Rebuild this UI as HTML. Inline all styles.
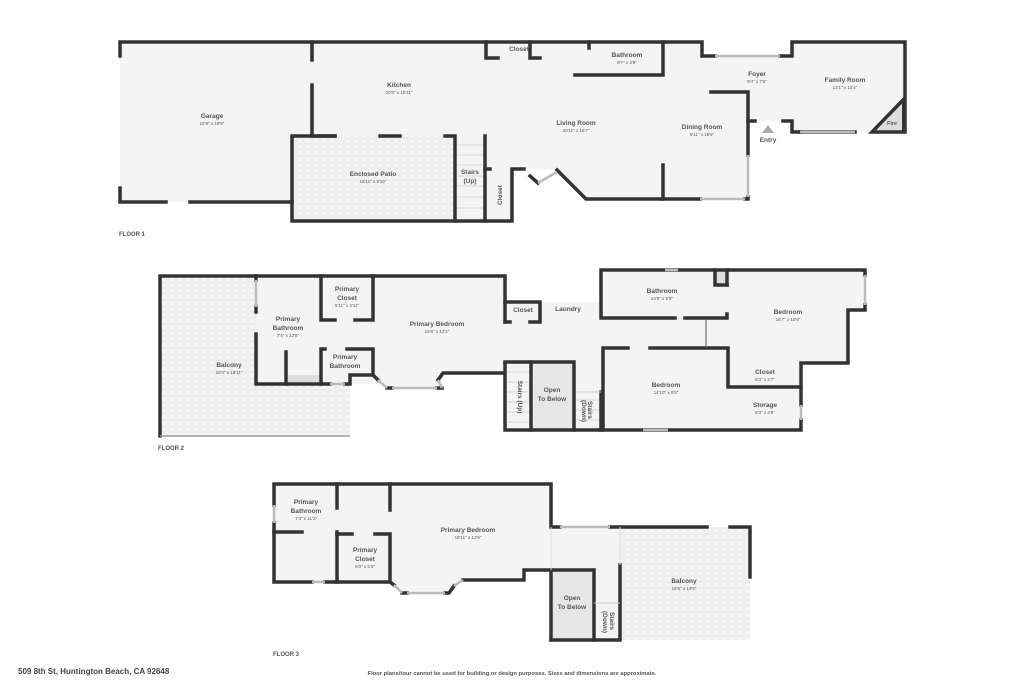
<!DOCTYPE html>
<html><head><meta charset="utf-8"><style>
html,body{margin:0;padding:0;background:#fff}
svg{display:block}
text{font-family:"Liberation Sans",sans-serif;fill:#555;text-anchor:middle}
.n{font-size:6.5px;font-weight:bold}
.d{font-size:4.5px}
.w{stroke:#333;stroke-width:3.5;fill:none;stroke-linecap:square;stroke-linejoin:miter}
.win{stroke:#bbb;stroke-width:2.5;fill:none}
.t{stroke:#ccc;stroke-width:0.8;fill:none}
</style></head><body>
<svg width="1024" height="683" viewBox="0 0 1024 683" xmlns="http://www.w3.org/2000/svg">
<defs>
<pattern id="p" width="8" height="6" patternUnits="userSpaceOnUse">
<rect width="8" height="6" fill="#f3f3f3"/>
<rect x="0.5" y="0.5" width="7" height="5" rx="1.5" fill="none" stroke="#e6e6e6" stroke-width="0.5"/>
</pattern>
</defs>
<!-- FLOOR 1 fills -->
<g fill="#f4f4f4">
<rect x="120" y="42" width="192" height="160"/>
<polygon points="312,42 702,42 702,56 792,56 792,42 905,42 905,132 792,132 792,121 748,121 748,199 586,199 557,170 524,169 512,169 512,221 455,221 455,136 312,136"/>
</g>
<rect x="292" y="136" width="163" height="85" fill="url(#p)"/>
<g class="t">
<line x1="455" y1="145" x2="485" y2="145"/><line x1="455" y1="155" x2="485" y2="155"/><line x1="455" y1="165" x2="485" y2="165"/><line x1="455" y1="176" x2="485" y2="176"/><line x1="455" y1="186" x2="485" y2="186"/><line x1="455" y1="197" x2="485" y2="197"/><line x1="455" y1="208" x2="485" y2="208"/>
</g>
<polygon points="872,132 903,100 903,132" fill="#ddd" stroke="#333" stroke-width="2"/>
<g class="w">
<polyline points="120,56 120,42 702,42 702,56 715,56"/>
<polyline points="780,56 792,56 792,42 905,42 905,132 872,132 903,100"/>
<polyline points="855,132 800,132"/>
<polyline points="800,132 792,132 792,121 783,121"/>
<polyline points="755,121 748,121"/>
<polyline points="711,92 748,92 748,155"/>
<polyline points="748,197 748,199 745,199"/>
<polyline points="700,199 586,199 557,170"/>
<polyline points="538,183 530,176"/>
<polyline points="524,169 512,169 512,221 292,221 292,136 335,136"/>
<polyline points="380,136 400,136"/>
<polyline points="445,136 455,136 455,221"/>
<polyline points="485,136 485,221"/>
<polyline points="485,169 490,169"/>
<polyline points="120,188 120,202 166,202"/>
<polyline points="190,202 292,202"/>
<polyline points="312,42 312,60"/>
<polyline points="312,85 312,136 335,136"/>
<polyline points="486,42 486,58 498,58"/>
<polyline points="530,42 530,58 540,58"/>
<polyline points="575,75 663,75 663,42"/>
<polyline points="589,42 589,48"/>
<polyline points="663,165 663,199"/>
</g>
<g class="win">
<line x1="715" y1="56" x2="780" y2="56"/><line x1="800" y1="132" x2="855" y2="132"/>
<line x1="748" y1="155" x2="748" y2="197"/><line x1="700" y1="199" x2="745" y2="199"/>
<line x1="538" y1="183" x2="557" y2="172"/>
</g>
<polygon points="762,133 768,125 774,133" fill="#aaa"/>
<text class="n" x="212" y="118">Garage</text><text class="d" x="212" y="125">22'8" x 18'9"</text>
<text class="n" x="399" y="87">Kitchen</text><text class="d" x="399" y="94">20'3" x 10'11"</text>
<text class="n" x="373" y="176">Enclosed Patio</text><text class="d" x="373" y="183">18'11" x 9'10"</text>
<text class="n" x="470" y="174">Stairs</text><text class="n" x="470" y="183">(Up)</text>
<text class="n" x="502" y="195" transform="rotate(-90 502 195)">Closet</text>
<text class="n" x="519" y="51">Closet</text>
<text class="n" x="627" y="57">Bathroom</text><text class="d" x="627" y="64">8'7" x 3'8"</text>
<text class="n" x="576" y="125">Living Room</text><text class="d" x="576" y="132">20'11" x 16'7"</text>
<text class="n" x="702" y="129">Dining Room</text><text class="d" x="702" y="136">9'11" x 18'5"</text>
<text class="n" x="757" y="76">Foyer</text><text class="d" x="757" y="83">9'4" x 7'6"</text>
<text class="n" x="845" y="82">Family Room</text><text class="d" x="845" y="89">13'1" x 10'4"</text>
<text class="n" x="768" y="142">Entry</text>
<text class="d" x="892" y="125" style="font-size:5.5px;font-weight:bold">Fire</text>
<text class="n" x="132" y="236" style="font-size:6px">FLOOR 1</text>

<!-- FLOOR 2 -->
<rect x="160" y="276" width="190" height="160" fill="url(#p)"/>
<g fill="#f4f4f4">
<polygon points="256,276 505,276 505,302 601,302 601,270 865,270 865,310 848,310 848,363 801,363 801,430 505,430 505,373 443,373 442,388 387,388 373,375 373,384 256,384"/>
</g>
<rect x="531" y="362" width="43" height="68" fill="#e6e6e6"/>
<rect x="287" y="375" width="33" height="9" fill="#ddd"/>
<rect x="715" y="271" width="12" height="14" fill="#ddd"/>
<g class="t">
<line x1="505" y1="372" x2="530" y2="372"/><line x1="505" y1="382" x2="530" y2="382"/><line x1="505" y1="392" x2="530" y2="392"/><line x1="505" y1="402" x2="530" y2="402"/><line x1="505" y1="412" x2="530" y2="412"/><line x1="505" y1="422" x2="530" y2="422"/>
<line x1="576" y1="400" x2="601" y2="400"/><line x1="576" y1="410" x2="601" y2="410"/><line x1="576" y1="420" x2="601" y2="420"/>
</g>
<g class="w">
<polyline points="160,436 160,276 505,276 505,322"/>
<polyline points="256,276 256,280"/><polyline points="256,307 256,312"/>
<polyline points="256,334 256,384 330,384"/>
<polyline points="286,352 286,384"/>
<polyline points="321,276 321,320 335,320"/><polyline points="355,320 373,320 373,276"/>
<polyline points="325,349 321,349 321,384"/><polyline points="347,349 373,349 373,375 350,375 350,384 345,384"/>
<polyline points="373,375 378,380"/><polyline points="387,388 392,388"/><polyline points="437,388 442,388"/><polyline points="438,380 443,373 505,373 505,362 505,430 801,430 801,420"/>
<polyline points="801,405 801,363 848,363 848,310 865,310 865,305"/>
<polyline points="865,275 865,270 601,270 601,318 675,318"/>
<polyline points="685,318 727,318 727,314"/>
<polyline points="727,285 727,270"/><polyline points="715,270 715,285 727,285"/>
<polyline points="505,302 540,302 540,322 530,322"/>
<polyline points="505,322 510,322"/>
<polyline points="603,430 603,348 628,348"/><polyline points="650,348 728,348 728,387 801,387"/>
<polyline points="531,430 531,362 574,362 574,430"/>
<polyline points="505,362 531,362"/>
<polyline points="601,392 601,430"/>
</g>
<line x1="706" y1="320" x2="706" y2="348" stroke="#555" stroke-width="1"/>
<line x1="576" y1="392" x2="601" y2="392" stroke="#ccc" stroke-width="1"/>
<line x1="160" y1="436" x2="350" y2="436" stroke="#999" stroke-width="1.5"/>
<g class="win">
<line x1="256" y1="280" x2="256" y2="307"/><line x1="330" y1="384" x2="345" y2="384"/>
<line x1="378" y1="380" x2="387" y2="388"/><line x1="392" y1="388" x2="437" y2="388"/><line x1="438" y1="380" x2="442" y2="388"/>
<line x1="865" y1="275" x2="865" y2="305"/><line x1="801" y1="405" x2="801" y2="420"/>
<line x1="643" y1="430" x2="668" y2="430"/><line x1="665" y1="270" x2="678" y2="270"/>
</g>
<text class="n" x="229" y="367">Balcony</text><text class="d" x="229" y="374">22'4" x 18'11"</text>
<text class="n" x="288" y="321">Primary</text><text class="n" x="288" y="330">Bathroom</text><text class="d" x="288" y="337">7'4" x 12'8"</text>
<text class="n" x="347" y="291">Primary</text><text class="n" x="347" y="300">Closet</text><text class="d" x="347" y="307">5'11" x 4'11"</text>
<text class="n" x="345" y="359">Primary</text><text class="n" x="345" y="368">Bathroom</text>
<text class="n" x="437" y="326">Primary Bedroom</text><text class="d" x="437" y="333">15'6" x 13'1"</text>
<text class="n" x="523" y="312">Closet</text>
<text class="n" x="568" y="311">Laundry</text>
<text class="n" x="662" y="293">Bathroom</text><text class="d" x="662" y="300">14'9" x 5'5"</text>
<text class="n" x="788" y="314">Bedroom</text><text class="d" x="788" y="321">18'7" x 10'8"</text>
<text class="n" x="765" y="374">Closet</text><text class="d" x="765" y="381">8'3" x 2'7"</text>
<text class="n" x="666" y="387">Bedroom</text><text class="d" x="666" y="394">14'10" x 9'5"</text>
<text class="n" x="765" y="407">Storage</text><text class="d" x="765" y="414">8'3" x 4'8"</text>
<text class="n" x="552" y="392">Open</text><text class="n" x="552" y="401">To Below</text>
<text class="n" x="518" y="397" transform="rotate(90 518 397)">Stairs (Up)</text>
<text class="n" x="588" y="410" transform="rotate(90 588 410)">Stairs</text>
<text class="n" x="582" y="411" transform="rotate(90 582 411)">(Down)</text>
<text class="n" x="171" y="450" style="font-size:6px">FLOOR 2</text>

<!-- FLOOR 3 -->
<rect x="620" y="527" width="130" height="113" fill="url(#p)"/>
<g fill="#f4f4f4">
<polygon points="274,484 551,484 551,527 620,527 620,640 551,640 551,570 524,570 524,580 463,580 447,593 402,593 390,582 274,582"/>
</g>
<rect x="551" y="570" width="43" height="70" fill="#e6e6e6"/>
<g class="w">
<polyline points="274,505 274,484 551,484 551,527 560,527"/>
<polyline points="610,527 707,527"/><polyline points="730,527 750,527 750,577"/>
<polyline points="274,523 274,582 312,582"/><polyline points="325,582 390,582 394,585"/>
<polyline points="402,593 407,593"/><polyline points="445,593 449,593 454,586"/>
<polyline points="463,580 524,580 524,570 551,570"/>
<polyline points="337,484 337,508"/><polyline points="337,532 337,582"/>
<polyline points="274,532 302,532"/>
<polyline points="337,534 352,534"/><polyline points="375,534 390,534 390,582"/>
<polyline points="390,484 390,510"/>
<polyline points="551,640 551,570 594,570 594,640"/>
<polyline points="551,640 620,640 620,565"/>
</g>
<line x1="551" y1="527" x2="551" y2="570" stroke="#ddd" stroke-width="1"/>
<line x1="620" y1="527" x2="620" y2="565" stroke="#ddd" stroke-width="1"/>
<line x1="594" y1="603" x2="620" y2="603" stroke="#ccc" stroke-width="1"/>
<g class="win">
<line x1="274" y1="505" x2="274" y2="523"/><line x1="312" y1="582" x2="325" y2="582"/>
<line x1="394" y1="585" x2="402" y2="593"/><line x1="407" y1="593" x2="445" y2="593"/><line x1="454" y1="586" x2="463" y2="580"/>
<line x1="560" y1="527" x2="610" y2="527"/>
</g>
<text class="n" x="306" y="504">Primary</text><text class="n" x="306" y="513">Bathroom</text><text class="d" x="306" y="520">7'3" x 11'2"</text>
<text class="n" x="365" y="552">Primary</text><text class="n" x="365" y="561">Closet</text><text class="d" x="365" y="568">6'0" x 5'3"</text>
<text class="n" x="468" y="532">Primary Bedroom</text><text class="d" x="468" y="539">18'11" x 12'9"</text>
<text class="n" x="684" y="583">Balcony</text><text class="d" x="684" y="590">15'5" x 13'5"</text>
<text class="n" x="572" y="600">Open</text><text class="n" x="572" y="609">To Below</text>
<text class="n" x="610" y="621" transform="rotate(90 610 621)">Stairs</text>
<text class="n" x="603" y="622" transform="rotate(90 603 622)">(Down)</text>
<text class="n" x="286" y="656" style="font-size:6px">FLOOR 3</text>

<text x="18" y="674" style="font-size:8px;font-weight:bold;text-anchor:start;fill:#444">509 8th St, Huntington Beach, CA 92648</text>
<text x="512" y="675" style="font-size:5.8px;font-weight:bold;fill:#555">Floor plans/tour cannot be used for building or design purposes. Sizes and dimensions are approximate.</text>
</svg>
</body></html>
